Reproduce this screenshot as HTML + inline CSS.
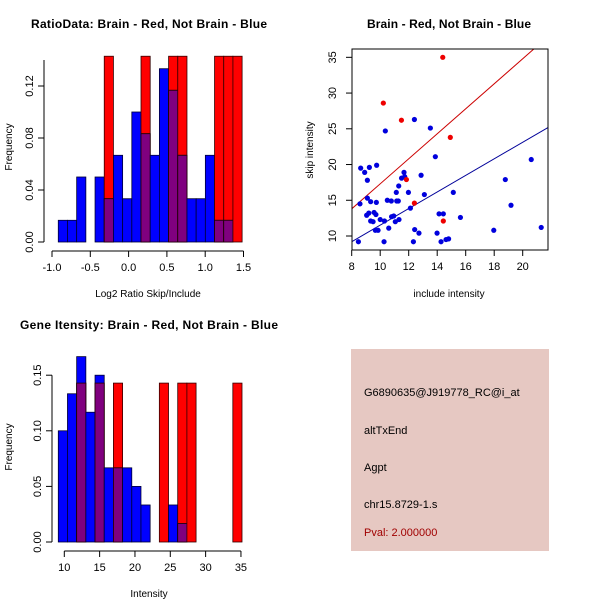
<!DOCTYPE html>
<html><head><meta charset="utf-8"><style>
html,body{margin:0;padding:0;background:#fff;}
svg{display:block;font-family:"Liberation Sans",sans-serif;}
</style></head><body>
<svg id="s" width="600" height="600" viewBox="0 0 600 600">
<rect x="0" y="0" width="600" height="600" fill="#fff"/>
<g id="p1"></g>
<g id="p2"></g>
<g id="p3"></g>
<g>
<rect x="351" y="349" width="198" height="202" fill="#e6c8c2"/>
<text x="364" y="396" font-size="11">G6890635@J919778_RC@i_at</text>
<text x="364" y="434" font-size="11">altTxEnd</text>
<text x="364" y="471" font-size="11">Agpt</text>
<text x="364" y="508" font-size="11">chr15.8729-1.s</text>
<text x="364" y="536" font-size="11" fill="#a00000">Pval: 2.000000</text>
</g>
</svg>
<script>
// ---- Chart 1 data ----
const h1Start = -0.918;
const h1Width = 0.12;
const h1Blue = [0.0167,0.0167,0.05,0,0.05,0.0333,0.0667,0.0333,0.1,0.0833,0.0667,0.1333,0.1167,0.0667,0.0333,0.0333,0.0667,0.0167,0.0167,0];
const h1Red  = [0,0,0,0,0,0.1429,0,0,0,0.1429,0,0,0.1429,0.1429,0,0,0,0.1429,0.1429,0.1429];
const h1XTicks = [-1.0,-0.5,0.0,0.5,1.0,1.5];
const h1YTicks = [0.00,0.04,0.08,0.12];
// ---- Chart 2 data ----
const scBlueX = [8.58,8.47,8.63,8.91,9.1,9.24,9.75,9.73,9.1,9.33,9.05,9.2,9.33,9.5,9.57,9.7,9.66,9.85,10.0,10.3,10.27,10.36,10.5,10.6,10.78,10.8,10.95,11.06,11.13,11.16,11.27,11.3,11.32,11.5,11.67,11.72,11.98,12.12,12.33,12.4,12.42,12.72,12.87,13.1,13.52,13.87,13.99,14.13,14.27,14.43,14.62,14.8,15.13,15.63,17.97,18.78,19.18,20.6,21.3];
const scBlueY = [14.5,9.2,19.5,18.9,17.8,19.6,19.9,14.7,15.3,14.8,12.9,13.2,12.1,12.0,13.3,13.0,10.8,10.8,12.3,12.1,9.2,24.7,15.0,11.1,14.9,12.7,12.8,12.0,16.1,14.9,14.9,17.0,12.3,18.1,18.9,18.3,16.1,13.9,9.2,26.3,10.9,10.4,18.5,15.8,25.1,21.1,10.4,13.1,9.2,13.1,9.5,9.6,16.1,12.6,10.8,17.9,14.3,20.7,11.2];
const scRedX = [14.39,10.22,11.49,14.92,11.84,12.4,14.43];
const scRedY = [35.0,28.6,26.2,23.8,17.9,14.6,12.1];
const fitRed = [13.8,1.75];   // intercept at x=8, slope
const fitBlue = [9.2,1.16];
const scXTicks = [8,10,12,14,16,18,20];
const scYTicks = [10,15,20,25,30,35];
// ---- Chart 3 data ----
const h3Start = 9.15;
const h3Width = 1.3;
const h3Blue = [0.1,0.1333,0.1667,0.1167,0.15,0.0667,0.0667,0.0667,0.05,0.0333,0,0,0.0333,0.0167,0,0,0,0,0,0];
const h3Red  = [0,0,0.1429,0,0.1429,0,0.1429,0,0,0,0,0.1429,0,0.1429,0.1429,0,0,0,0,0.1429];
const h3XTicks = [10,15,20,25,30,35];
const h3YTicks = [0.00,0.05,0.10,0.15];

const NS="http://www.w3.org/2000/svg";
function mk(parent,tag,attrs){const e=document.createElementNS(NS,tag);for(const k in attrs)e.setAttribute(k,attrs[k]);parent.appendChild(e);return e;}
function txt(parent,x,y,s,attrs){const e=mk(parent,'text',Object.assign({x:x,y:y},attrs||{}));e.textContent=s;return e;}

function hist(g,o){
  const sx=v=>o.x0+(v-o.xmin)*o.kx, sy=v=>o.y0-v*o.ky;
  for(let i=0;i<o.blue.length;i++){
    const a=sx(o.start+i*o.width), b=sx(o.start+(i+1)*o.width);
    const bv=o.blue[i], rv=o.red[i];
    if(rv>0){const r=mk(g,'rect',{x:a,y:sy(rv),width:b-a,height:sy(0)-sy(rv),fill:'#ff0000',stroke:'#300',"stroke-width":0.8});
      
      }
    if(bv>0){const r=mk(g,'rect',{x:a,y:sy(bv),width:b-a,height:sy(0)-sy(bv),fill:'#0000ff',stroke:'#003',"stroke-width":0.8});
      
      }
    const m=Math.min(bv,rv);
    if(m>0){const r=mk(g,'rect',{x:a,y:sy(m),width:b-a,height:sy(0)-sy(m),fill:'#7f007f',stroke:'#200',"stroke-width":0.8});
      
      }
  }
  const ax=o.axisX, ay=o.axisY;
  mk(g,'line',{x1:sx(o.xt[0]),x2:sx(o.xt[o.xt.length-1]),y1:ay,y2:ay,stroke:'#000'});
  o.xt.forEach(t=>{mk(g,'line',{x1:sx(t),x2:sx(t),y1:ay,y2:ay+6,stroke:'#000'});
    const l=txt(g,sx(t),ay+20,o.xf(t),{"font-size":11,"text-anchor":"middle"});
    
    });
  mk(g,'line',{x1:ax,x2:ax,y1:sy(o.yt[0]),y2:sy(o.ytop),stroke:'#000'});
  o.yt.forEach(t=>{mk(g,'line',{x1:ax,x2:ax-6,y1:sy(t),y2:sy(t),stroke:'#000'});});
  o.yt.forEach(t=>{const l=txt(g,ax-11,sy(t),o.yf(t),{"font-size":11,"text-anchor":"middle",transform:`rotate(-90 ${ax-11} ${sy(t)})`});
    
    });
}

// Chart 1
(function(){
  const g=document.getElementById('p1');
  hist(g,{x0:52,xmin:-1,kx:76.6,y0:242,ky:1300,start:h1Start,width:h1Width,blue:h1Blue,red:h1Red,
    xt:h1XTicks,yt:h1YTicks,ytop:0.14,axisX:44,axisY:251,xf:t=>t.toFixed(1),yf:t=>t.toFixed(2)});
  const t=txt(g,149,28,'RatioData: Brain - Red, Not Brain - Blue',{"font-size":12,"font-weight":"bold","text-anchor":"middle",textLength:236});
  
  
  const xl=txt(g,148,297,'Log2 Ratio Skip/Include',{"font-size":10,"text-anchor":"middle"});
  
  
  const yl=txt(g,12,147,'Frequency',{"font-size":10,"text-anchor":"middle",transform:'rotate(-90 12 147)'});
  
  
})();

// Chart 2
(function(){
  const g=document.getElementById('p2');
  const sx=v=>351.7+(v-8)*14.25, sy=v=>236-(v-10)*7.147;
  const L=352,R=548,T=49,B=250;
  const xinv=px=>8+(px-351.7)/14.25;
  mk(g,'defs',{}).innerHTML='<clipPath id="c2"><rect x="352" y="49" width="196" height="201"/></clipPath>';
  const cg=mk(g,'g',{"clip-path":"url(#c2)"});
  [[fitRed,'#cc0000','red-fit-line'],[fitBlue,'#000099','blue-fit-line']].forEach(f=>{
    const xa=xinv(L),xb=xinv(R);
    const l=mk(cg,'line',{x1:sx(xa),y1:sy(f[0][0]+f[0][1]*(xa-8)),x2:sx(xb),y2:sy(f[0][0]+f[0][1]*(xb-8)),stroke:f[1],"stroke-width":1});
    
    
  });
  scBlueX.forEach((x,i)=>{const c=mk(cg,'circle',{cx:sx(x),cy:sy(scBlueY[i]),r:2.6,fill:'#0000dd'});
    
    });
  scRedX.forEach((x,i)=>{const c=mk(cg,'circle',{cx:sx(x),cy:sy(scRedY[i]),r:2.6,fill:'#ee0000'});
    
    });
  mk(g,'rect',{x:L,y:T,width:R-L,height:B-T,fill:'none',stroke:'#000'});
  scXTicks.forEach(t=>{mk(g,'line',{x1:sx(t),x2:sx(t),y1:B,y2:B+6,stroke:'#000'});
    const l=txt(g,sx(t),B+20,String(t),{"font-size":11,"text-anchor":"middle"});
    
    });
  scYTicks.forEach(t=>{mk(g,'line',{x1:L,x2:L-6,y1:sy(t),y2:sy(t),stroke:'#000'});
    const l=txt(g,L-16,sy(t),String(t),{"font-size":11,"text-anchor":"middle",transform:`rotate(-90 ${L-16} ${sy(t)})`});
    
    });
  const t=txt(g,449,28,'Brain - Red, Not Brain - Blue',{"font-size":12,"font-weight":"bold","text-anchor":"middle",textLength:164});
  
  
  const xl=txt(g,449,297,'include intensity',{"font-size":10,"text-anchor":"middle"});
  
  
  const yl=txt(g,313,150,'skip intensity',{"font-size":10,"text-anchor":"middle",transform:'rotate(-90 313 150)'});
  
  
})();

// Chart 3
(function(){
  const g=document.getElementById('p3');
  hist(g,{x0:64.3,xmin:10,kx:7.066,y0:542,ky:1112,start:h3Start,width:h3Width,blue:h3Blue,red:h3Red,
    xt:h3XTicks,yt:h3YTicks,ytop:0.15,axisX:52,axisY:551,xf:t=>String(t),yf:t=>t.toFixed(2)});
  const t=txt(g,149,329,'Gene Itensity: Brain - Red, Not Brain - Blue',{"font-size":12,"font-weight":"bold","text-anchor":"middle",textLength:258});
  
  
  const xl=txt(g,149,597,'Intensity',{"font-size":10,"text-anchor":"middle"});
  
  
  const yl=txt(g,12,447,'Frequency',{"font-size":10,"text-anchor":"middle",transform:'rotate(-90 12 447)'});
  
  
})();
</script>
</body></html>
